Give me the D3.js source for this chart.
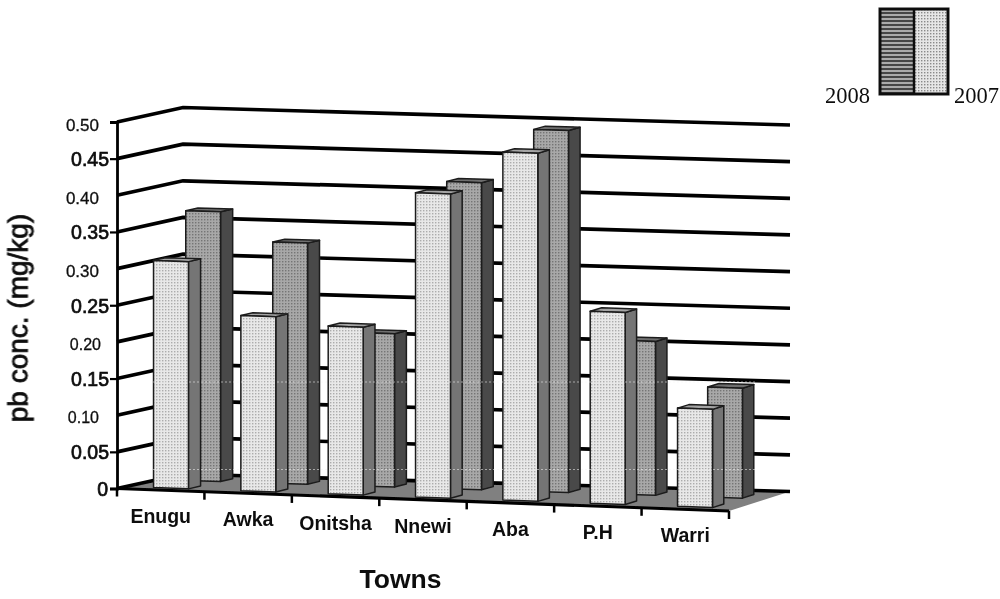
<!DOCTYPE html>
<html><head><meta charset="utf-8">
<script src="https://cdn.jsdelivr.net/npm/d3@7/dist/d3.min.js"></script>
<style>html,body{margin:0;background:#fff}svg{display:block}text{fill:#111}</style>
</head><body><svg id="c" width="1000" height="599"></svg>
<script>
const categories=["Enugu","Awka","Onitsha","Nnewi","Aba","P.H","Warri"];
const values2007=[0.31,0.239,0.229,0.415,0.475,0.262,0.134];
const values2008=[0.368,0.329,0.209,0.419,0.494,0.21,0.15];
const yTicks=[0,0.05,0.1,0.15,0.2,0.25,0.3,0.35,0.4,0.45,0.5];

const svg=d3.select("#c"),defs=svg.append("defs");
defs.append("filter").attr("id","soft").append("feGaussianBlur").attr("stdDeviation",0.5);
function dots(id,base,dot){
  const p=defs.append("pattern").attr("id",id).attr("width",3).attr("height",3).attr("patternUnits","userSpaceOnUse");
  p.append("rect").attr("width",3).attr("height",3).attr("fill",base);
  p.append("rect").attr("width",1.4).attr("height",1.4).attr("fill",dot);
}
dots("lightDots","#e8e8e8","#acacac");
dots("darkDots","#a8a8a8","#747474");
dots("legendDots","#e6e6e6","#8a8a8a");
const st=defs.append("pattern").attr("id","legendLines").attr("width",4).attr("height",4).attr("patternUnits","userSpaceOnUse");
st.append("rect").attr("width",4).attr("height",4).attr("fill","#aaa");
st.append("rect").attr("width",4).attr("height",2).attr("fill","#444");

const root=svg.append("g").attr("filter","url(#soft)");
// floor corners: front-left, front-right, back-right, back-left
const A=[117,488.5],B=[729,511],C=[790,491.5],D=[183,474];
const h=d3.scaleLinear().domain([0,0.5]).range([0,366.5]);
const x=d3.scaleBand().domain(categories).range([0,1]);
function P(u,d,v=0){
  const fx=A[0]+u*(B[0]-A[0]),fy=A[1]+u*(B[1]-A[1]);
  const bx=D[0]+u*(C[0]-D[0]),by=D[1]+u*(C[1]-D[1]);
  return [(1-d)*fx+d*bx,(1-d)*fy+d*by-h(v)];
}
const line=d3.line();
const poly=(pts,fill,sw=1.5)=>root.append("path").attr("d",line(pts)+"Z").attr("fill",fill).attr("stroke","#1c1c1c").attr("stroke-width",sw).attr("stroke-linejoin","round");

// floor
root.append("path").attr("d",line([A,B,C,D])+"Z").attr("fill","#808080");
// walls gridlines
yTicks.forEach(v=>{
  root.append("path").attr("d",line([P(0,0,v),P(0,1,v),P(1,1,v)])).attr("fill","none").attr("stroke","#000").attr("stroke-width",3.7);
});
// front axis
root.append("path").attr("d",line([A,B])).attr("stroke","#000").attr("stroke-width",3.2);
[...categories.map(c=>x(c)),1].forEach(u=>{
  const p=P(u,0);
  root.append("path").attr("d",line([p,[p[0],p[1]+8]])).attr("stroke","#000").attr("stroke-width",2.5);
});
// y axis via d3.axisLeft
const yScale=d3.scaleLinear().domain([0,0.5]).range([A[1],A[1]-h(0.5)]);
const ax=root.append("g").attr("transform",`translate(${A[0]},0)`)
  .call(d3.axisLeft(yScale).tickValues(yTicks).tickSize(7).tickFormat(v=>v===0?"0":d3.format(".2f")(v)));
ax.select(".domain").attr("stroke","#000").attr("stroke-width",2.8);
ax.selectAll(".tick line").attr("stroke","#000").attr("stroke-width",2.2).attr("display",(v,i)=>(i%2||i===0)?null:"none");
ax.selectAll(".tick text").attr("fill","#111").attr("font-family","Liberation Sans")
  .attr("stroke","#111").attr("stroke-width",(v,i)=>(i%2||i===0)?0.7:0.3)
  .attr("font-size",(v,i)=>(i%2||i===0)?19.5:(i===2||i===4?16:17))
  .attr("x",(v,i)=>i===0?-9:(i%2?-8:(i===4?-16:-18)))
  .attr("dy",(v,i)=>(i%2||i===0)?"0.36em":"0.48em");

function bar(cat,v,d0,d1,face,side,top){
  const bw=x.bandwidth(),u0=x(cat)+.32*bw,u1=x(cat)+.72*bw;
  poly([P(u1,d0,0),P(u1,d1,0),P(u1,d1,v),P(u1,d0,v)],side);
  poly([P(u0,d0,v),P(u1,d0,v),P(u1,d1,v),P(u0,d1,v)],top);
  poly([P(u0,d0,0),P(u1,d0,0),P(u1,d0,v),P(u0,d0,v)],face);
}
categories.forEach((c,i)=>bar(c,values2008[i],.62,.805,"url(#darkDots)","#4a4a4a","#6e6e6e"));
categories.forEach((c,i)=>bar(c,values2007[i],.13,.315,"url(#lightDots)","#757575","#a4a4a4"));

// faint dotted scan lines across the bars
[382,469.5].forEach(y=>root.append("line").attr("x1",153).attr("x2",756).attr("y1",y).attr("y2",y)
  .attr("stroke","#f4f4f4").attr("stroke-width",1).attr("stroke-dasharray","2 2").attr("opacity",.55));

// category labels
categories.forEach(c=>{
  const p=P(x(c)+x.bandwidth()/2,0);
  root.append("text").text(c).attr("x",p[0]).attr("y",p[1]+33).attr("text-anchor","middle")
    .attr("font-family","Liberation Sans").attr("font-weight","bold").attr("font-size",19.5);
});
root.append("text").text("Towns").attr("x",400.5).attr("y",588).attr("text-anchor","middle")
  .attr("font-family","Liberation Sans").attr("font-weight","bold").attr("font-size",26.5);
root.append("text").text("pb conc. (mg/kg)").attr("transform","translate(27.5,318) rotate(-90)").attr("text-anchor","middle")
  .attr("font-family","Liberation Sans").attr("stroke","#111").attr("stroke-width",0.8).attr("font-size",28);

// legend
const lg=root.append("g");
lg.append("rect").attr("x",880).attr("y",9).attr("width",34).attr("height",85).attr("fill","url(#legendLines)");
lg.append("rect").attr("x",914).attr("y",9).attr("width",34).attr("height",85).attr("fill","url(#legendDots)");
lg.append("rect").attr("x",880).attr("y",9).attr("width",68).attr("height",85).attr("fill","none").attr("stroke","#111").attr("stroke-width",3);
lg.append("line").attr("x1",914).attr("x2",914).attr("y1",9).attr("y2",94).attr("stroke","#111").attr("stroke-width",2.5);
[["2008",825],["2007",954]].forEach(t=>lg.append("text").text(t[0]).attr("x",t[1]).attr("y",103)
  .attr("font-family","Liberation Serif").attr("font-size",22.5));
</script></body></html>
